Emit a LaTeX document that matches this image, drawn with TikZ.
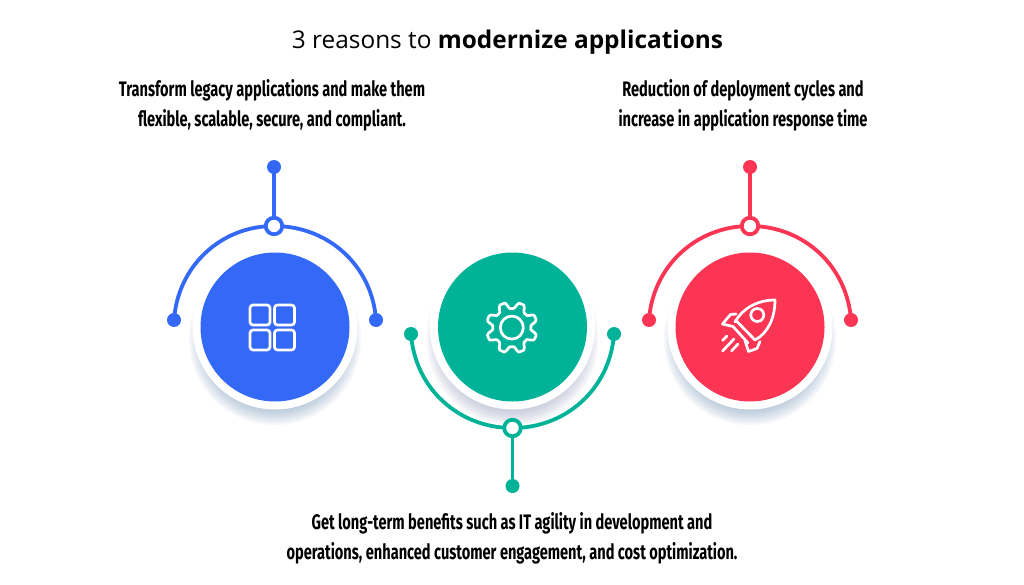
\documentclass[tikz,border=0pt]{standalone}
\usepackage{fontspec}
\setmainfont{Open Sans}
\newfontfamily\condfont[FakeStretch=0.695]{Fira Sans}
\usetikzlibrary{backgrounds}
\definecolor{cblue}{HTML}{3369F6}
\definecolor{cgreen}{HTML}{00B398}
\definecolor{cred}{HTML}{FB3553}
\definecolor{shade1}{HTML}{6F8FB5}
\definecolor{shade2}{HTML}{8D92B5}
\newcommand{\softshadow}[3]{%
  \foreach \rr in {70,72,...,86}{\fill[#3,opacity=0.065] (#1,#2+12) circle[radius=\rr];}}
\tikzset{
  x=1pt,y=-1pt,
  disc/.style={circle,fill=#1,minimum size=149pt,inner sep=0pt,outer sep=0pt},
  ring/.style={circle,fill=white,minimum size=165pt,inner sep=0pt,outer sep=0pt},
  enddot/.style={circle,fill=#1,minimum size=14pt,inner sep=0pt,outer sep=0pt},
  knob/.style={circle,fill=white,draw=#1,line width=3.8pt,minimum size=16.5pt,inner sep=0pt,outer sep=0pt},
  link/.style={draw=#1,line width=3.8pt},
  icon/.style={draw=white,line width=2.7pt,line join=round,line cap=round},
  caption/.style={align=center,inner sep=0pt,font=\condfont\bfseries\fontsize{21}{30}\selectfont},
}
\begin{document}
\begin{tikzpicture}
\useasboundingbox (0,0) rectangle (1024,585);

\node[anchor=center,inner sep=0pt,font=\fontsize{24.4}{30}\selectfont] (title) at (507.5,42) {3 reasons to \textbf{modernize applications}};
\node[caption] (t1) at (272,105) {Transform legacy applications and make them\\flexible, scalable, secure, and compliant.};
\node[caption] (t3) at (743,105) {Reduction of deployment cycles and\\increase in application response time};
\node[caption] (t2) at (512,538) {Get long-term benefits such as IT agility in development and\\operations, enhanced customer engagement, and cost optimization.};

% rings and discs
\node[ring] (r1) at (275,327) {};
\node[ring] (r2) at (512.5,327) {};
\node[ring] (r3) at (750,327) {};
\node[disc=cblue] (d1) at (275,327) {};
\node[disc=cgreen] (d2) at (512.5,327) {};
\node[disc=cred] (d3) at (750,327) {};

% end dots and knobs
\node[enddot=cblue] (bl) at (174,320) {};
\node[enddot=cblue] (br) at (376,320) {};
\node[enddot=cblue] (bt) at (274,167) {};
\node[knob=cblue] (bk) at (274,226) {};
\node[enddot=cgreen] (gl) at (411,334) {};
\node[enddot=cgreen] (gr) at (614,334) {};
\node[enddot=cgreen] (gb) at (512.5,486) {};
\node[knob=cgreen] (gk) at (512.5,428) {};
\node[enddot=cred] (rl) at (649,320) {};
\node[enddot=cred] (rr) at (851,320) {};
\node[enddot=cred] (rt) at (750,167) {};
\node[knob=cred] (rk) at (750,226) {};

\begin{pgfonlayer}{background}
  \fill[white] (0,0) rectangle (1024,585);
  \softshadow{275}{327}{shade1}
  \softshadow{512.5}{327}{shade2}
  \softshadow{750}{327}{shade1}
  \draw[link=cblue] (bl.center) to[out=86,in=180] (bk.center);
  \draw[link=cblue] (br.center) to[out=94,in=0] (bk.center);
  \draw[link=cblue] (bt.center) -- (bk.center);
  \draw[link=cgreen] (gl.center) to[out=-86,in=180] (gk.center);
  \draw[link=cgreen] (gr.center) to[out=-94,in=0] (gk.center);
  \draw[link=cgreen] (gb.center) -- (gk.center);
  \draw[link=cred] (rl.center) to[out=86,in=180] (rk.center);
  \draw[link=cred] (rr.center) to[out=94,in=0] (rk.center);
  \draw[link=cred] (rt.center) -- (rk.center);
\end{pgfonlayer}

% grid icon
\foreach \ix/\iy in {250/305,274.5/305,250/330,274.5/330}
  \draw[icon,rounded corners=3pt] (\ix,\iy) rectangle ++(20,20);

% gear icon
\draw[icon] plot[smooth cycle,domain=0:356,samples=90] ({511.8+(22.3+3.2*max(-1,min(1,1.7*cos(8*\x))))*cos(\x+22.5)},{327.6+(22.3+3.2*max(-1,min(1,1.7*cos(8*\x))))*sin(\x+22.5)});
\draw[icon] (511.8,327.6) circle[radius=11.5];

% rocket icon
\draw[icon] (735,322) .. controls (742,309) and (757,300) .. (775,300)
  .. controls (775,318) and (768,333) .. (755,340);
\draw[icon] (735.5,320) -- (755,340);
\draw[icon] (736,314) -- (730.5,314.5) -- (722.5,324) -- (733,326.5);
\draw[icon] (733,326.5) -- (748,343);
\draw[icon] (760,341.5) -- (757,348.5) -- (748.5,351.5) -- (745,341);
\draw[icon] (757.3,315) circle[radius=6.5];
\draw[icon] (727,336) -- (722.5,340.5);
\draw[icon] (722.5,351) -- (734,339);
\draw[icon] (731.5,351) -- (738,344);
\end{tikzpicture}
\end{document}
